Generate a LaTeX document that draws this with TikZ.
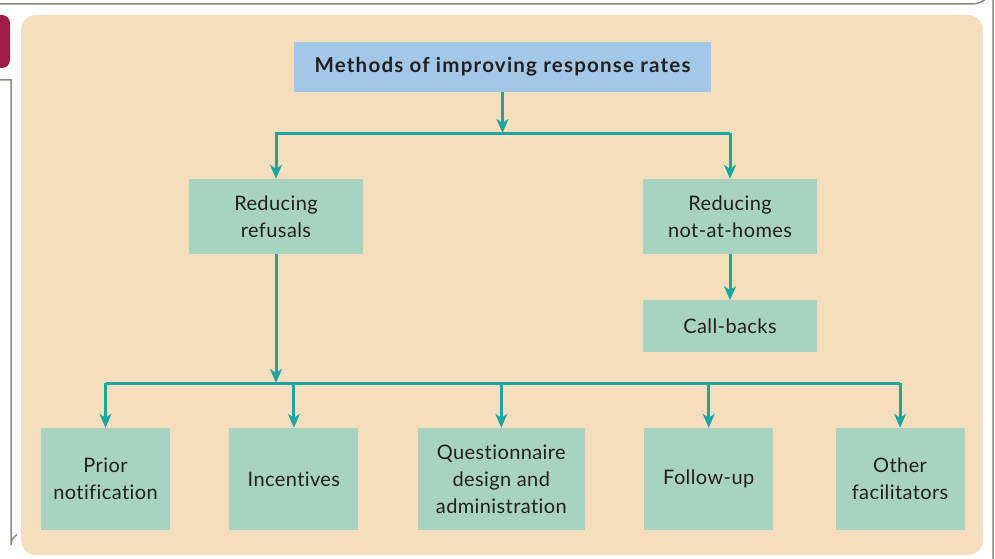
\documentclass[tikz,border=0pt]{standalone}
\usepackage{fontspec}
\setmainfont{Lato}
\usepackage{tikz}
\usetikzlibrary{arrows.meta,positioning}
\definecolor{ink}{HTML}{231F20}
\definecolor{teal}{HTML}{1AA7A0}
\definecolor{panel}{HTML}{F5DEBE}
\definecolor{mint}{HTML}{A8D3C1}
\definecolor{sky}{HTML}{A3C8E7}
\definecolor{frame}{HTML}{8C8B80}
\definecolor{tab}{HTML}{A01C48}
\newfontfamily\headfont[LetterSpace=6,Ligatures=NoCommon]{Lato}
\newfontfamily\boxfont[LetterSpace=2,Ligatures=NoCommon]{Lato}
\tikzset{
  head/.style={fill=sky,text=ink,font=\headfont\fontsize{20.5}{24}\selectfont\bfseries,inner sep=0pt,minimum width=417pt,minimum height=50pt},
  branch/.style={fill=mint,text=ink,align=center,font=\boxfont\fontsize{20}{27}\selectfont,inner sep=0pt,minimum width=174pt,minimum height=75pt},
  leaf/.style={fill=mint,text=ink,align=center,font=\boxfont\fontsize{20}{27}\selectfont,inner sep=0pt,minimum width=129pt,minimum height=102pt},
  flow/.style={-{Stealth[length=14pt,width=12pt,inset=4pt]},line width=3pt,draw=teal},
  link/.style={line width=3pt,draw=teal}
}

\begin{document}
\begin{tikzpicture}[x=1pt,y=-1pt,node distance=46pt and 59pt]
  \useasboundingbox (0,0) rectangle (995,559);
  % frame and panel
  \draw[frame,line width=1.5pt] (0,4) -- (972,4) arc[start angle=90,end angle=0,radius=21] -- (993,559);
  \draw[frame,line width=1.5pt] (0,80) -- (11,80) -- (11,545) arc[start angle=180,end angle=240,radius=12];
  \fill[tab,rounded corners=8pt] (-12,15) rectangle (10,68);
  \fill[panel,rounded corners=15pt] (21,15) rectangle (983,555);
  % nodes
  \node[head] (title) at (502.5,67) {Methods of improving response rates};
  \node[branch] (refusals) at (276,216.5) {Reducing\\refusals};
  \node[branch] (nothome) at (730,216.5) {Reducing\\not-at-homes};
  \node[branch, minimum height=52pt, below=of nothome] (callback) {Call-backs};
  \node[leaf] (prior) at (105.5,479) {Prior\\notification};
  \node[leaf, right=of prior] (incent) {Incentives};
  \node[leaf, minimum width=167pt, right=of incent] (quest) {Questionnaire\\design and\\administration};
  \node[leaf, right=of quest] (follow) {Follow-up};
  \node[leaf, right=62pt of follow] (other) {Other\\facilitators};
  \coordinate (tophub) at (0,133);
  \coordinate (bothub) at (0,383);
  % connectors
  \draw[flow] (title) -- (title |- tophub);
  \draw[flow] (tophub -| nothome) -- (tophub -| refusals) -- (refusals);
  \draw[flow] (tophub -| nothome) -- (nothome);
  \draw[flow] (nothome) -- (callback);
  \draw[flow] (refusals) -- (refusals |- bothub);
  \draw[link] (bothub -| prior) -- (bothub -| other);
  \foreach \n in {prior,incent,quest,follow,other}
    \draw[flow] (bothub -| \n) -- (\n);
\end{tikzpicture}
\end{document}
